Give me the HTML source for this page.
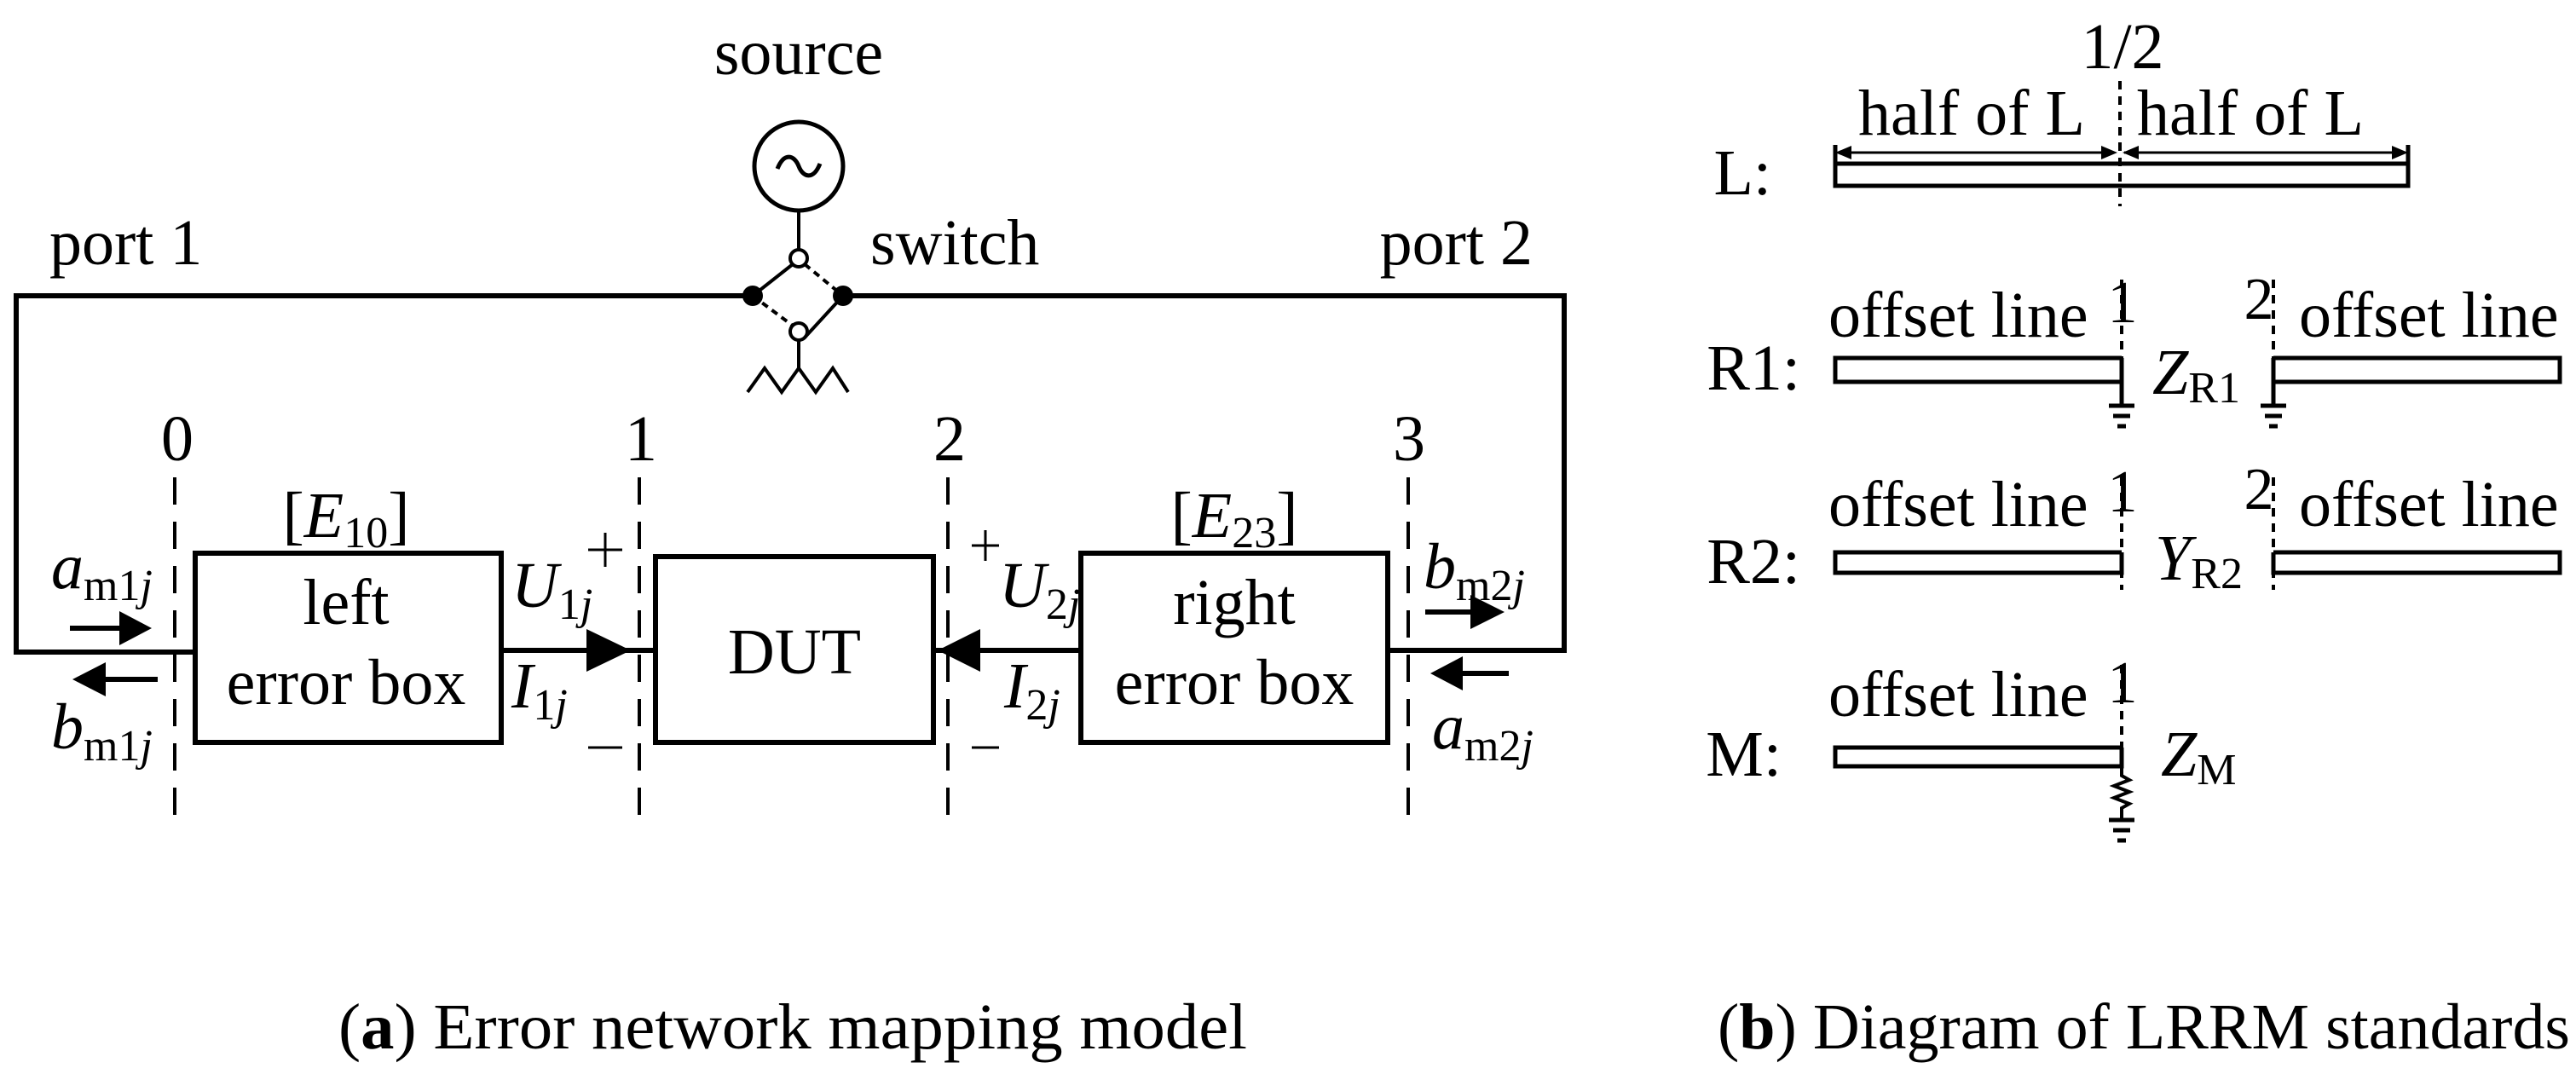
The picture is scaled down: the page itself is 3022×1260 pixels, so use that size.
<!DOCTYPE html>
<html><head><meta charset="utf-8"><style>
html,body{margin:0;padding:0;background:#fff;}
svg{display:block;}
text{font-family:"Liberation Serif",serif;fill:#000;}
</style></head><body>
<svg width="3022" height="1260" viewBox="0 0 3022 1260" xmlns="http://www.w3.org/2000/svg">
<g stroke="#000" stroke-width="6" fill="none">
<polyline points="229,765 19,765 19,347 883,347"/>
<polyline points="989,347 1835,347 1835,763 1628,763"/>
<line x1="588" y1="763" x2="769" y2="763"/>
<line x1="1095" y1="763" x2="1268" y2="763"/>
<rect x="229" y="649" width="359" height="222"/>
<rect x="769" y="653" width="326" height="218"/>
<rect x="1268" y="649" width="360" height="222"/>
<circle cx="937" cy="195" r="52" stroke-width="5"/>
<path d="M912,198 C920,178 932,182 937,195 C942,208 954,212 962,192" stroke-width="5"/>
<line x1="937" y1="247" x2="937" y2="293" stroke-width="4"/>
<line x1="937" y1="399" x2="937" y2="432" stroke-width="4"/>
<line x1="883" y1="347" x2="930" y2="310" stroke-width="4"/>
<line x1="944" y1="396" x2="989" y2="347" stroke-width="4"/>
<line x1="944" y1="310" x2="989" y2="347" stroke-width="4" stroke-dasharray="8 6"/>
<line x1="883" y1="347" x2="930" y2="382" stroke-width="4" stroke-dasharray="8 6"/>
<circle cx="937" cy="303" r="10" stroke-width="4"/>
<circle cx="937" cy="389" r="10" stroke-width="4"/>
<polyline points="877,460 897,432 917,460 937,432 957,460 977,432 995,460" stroke-width="4"/>
<g stroke-width="4" stroke-dasharray="32 20">
<line x1="205" y1="560" x2="205" y2="960"/>
<line x1="750" y1="560" x2="750" y2="960"/>
<line x1="1112" y1="560" x2="1112" y2="960"/>
<line x1="1652" y1="560" x2="1652" y2="960"/>
</g>
<line x1="82" y1="737" x2="145" y2="737" stroke-width="6"/>
<line x1="120" y1="797" x2="185" y2="797" stroke-width="6"/>
<line x1="1672" y1="718" x2="1730" y2="718" stroke-width="6"/>
<line x1="1710" y1="790" x2="1770" y2="790" stroke-width="6"/>
<g stroke-width="3">
<line x1="690" y1="645" x2="730" y2="645"/><line x1="710" y1="625" x2="710" y2="665"/>
<line x1="690" y1="877" x2="730" y2="877"/>
<line x1="1140" y1="640" x2="1172" y2="640"/><line x1="1156" y1="622" x2="1156" y2="658"/>
<line x1="1140" y1="877" x2="1172" y2="877"/>
</g>
</g>
<g fill="#000">
<circle cx="883" cy="347" r="12"/>
<circle cx="989" cy="347" r="12"/>
<polygon points="140,717 178,737 140,757"/>
<polygon points="85,797 124,777 124,817"/>
<polygon points="1725,698 1765,718 1725,738"/>
<polygon points="1678,790 1716,770 1716,810"/>
<polygon points="688,738 740,763 688,788"/>
<polygon points="1150,738 1100,763 1150,788"/>
</g>
<g font-size="76">
<text x="937" y="87" text-anchor="middle">source</text>
<text x="58" y="310">port 1</text>
<text x="1021" y="310">switch</text>
<text x="1798" y="310" text-anchor="end">port 2</text>
<text x="208" y="540" text-anchor="middle">0</text>
<text x="752" y="540" text-anchor="middle">1</text>
<text x="1114" y="540" text-anchor="middle">2</text>
<text x="1653" y="540" text-anchor="middle">3</text>
<text x="406" y="630" text-anchor="middle">[<tspan font-style="italic">E</tspan><tspan font-size="52" dy="12">10</tspan><tspan dy="-12">]</tspan></text>
<text x="1448" y="630" text-anchor="middle">[<tspan font-style="italic">E</tspan><tspan font-size="52" dy="12">23</tspan><tspan dy="-12">]</tspan></text>
<text x="406" y="732" text-anchor="middle">left</text>
<text x="406" y="826" text-anchor="middle">error box</text>
<text x="932" y="790" text-anchor="middle">DUT</text>
<text x="1448" y="732" text-anchor="middle">right</text>
<text x="1448" y="826" text-anchor="middle">error box</text>
<text x="60" y="690"><tspan font-style="italic">a</tspan><tspan font-size="52" dy="14">m1</tspan><tspan font-size="52" font-style="italic">j</tspan></text>
<text x="60" y="878"><tspan font-style="italic">b</tspan><tspan font-size="52" dy="14">m1</tspan><tspan font-size="52" font-style="italic">j</tspan></text>
<text x="600" y="712"><tspan font-style="italic">U</tspan><tspan font-size="52" dy="14">1</tspan><tspan font-size="52" font-style="italic">j</tspan></text>
<text x="600" y="830"><tspan font-style="italic">I</tspan><tspan font-size="52" dy="14">1</tspan><tspan font-size="52" font-style="italic">j</tspan></text>
<text x="1172" y="712"><tspan font-style="italic">U</tspan><tspan font-size="52" dy="14">2</tspan><tspan font-size="52" font-style="italic">j</tspan></text>
<text x="1178" y="830"><tspan font-style="italic">I</tspan><tspan font-size="52" dy="14">2</tspan><tspan font-size="52" font-style="italic">j</tspan></text>
<text x="1670" y="690"><tspan font-style="italic">b</tspan><tspan font-size="52" dy="14">m2</tspan><tspan font-size="52" font-style="italic">j</tspan></text>
<text x="1680" y="878"><tspan font-style="italic">a</tspan><tspan font-size="52" dy="14">m2</tspan><tspan font-size="52" font-style="italic">j</tspan></text>
<text x="397" y="1230" textLength="1066" lengthAdjust="spacingAndGlyphs">(<tspan font-weight="bold">a</tspan>) Error network mapping model</text>
<text x="2015" y="1230" textLength="1000" lengthAdjust="spacingAndGlyphs">(<tspan font-weight="bold">b</tspan>) Diagram of LRRM standards</text>
</g>
<g stroke="#000" stroke-width="5" fill="none">
<rect x="2153" y="192" width="672" height="26"/>
<line x1="2153" y1="170" x2="2153" y2="218"/>
<line x1="2825" y1="170" x2="2825" y2="218"/>
<line x1="2160" y1="179" x2="2480" y2="179" stroke-width="3"/>
<line x1="2492" y1="179" x2="2818" y2="179" stroke-width="3"/>
<g stroke-width="4" stroke-dasharray="10 8">
<line x1="2487" y1="95" x2="2487" y2="242"/>
<line x1="2489" y1="328" x2="2489" y2="420"/>
<line x1="2667" y1="328" x2="2667" y2="420"/>
<line x1="2489" y1="560" x2="2489" y2="692"/>
<line x1="2667" y1="560" x2="2667" y2="692"/>
<line x1="2489" y1="780" x2="2489" y2="877"/>
</g>
<polyline points="2489,420 2153,420 2153,448 2489,448 2489,420"/>
<line x1="2489" y1="448" x2="2489" y2="474"/>
<polyline points="2667,420 3003,420 3003,448 2667,448 2667,420"/>
<line x1="2667" y1="448" x2="2667" y2="474"/>
<polyline points="2489,648 2153,648 2153,672 2489,672 2489,648"/>
<polyline points="2667,648 3003,648 3003,672 2667,672 2667,648"/>
<polyline points="2489,877 2153,877 2153,899 2489,899 2489,877"/>
<polyline points="2489,899 2489,910 2498,915 2480,922 2498,929 2480,936 2498,943 2489,948 2489,960" stroke-width="4"/>
<g stroke-width="5">
<line x1="2474" y1="476" x2="2504" y2="476"/><line x1="2479" y1="488" x2="2499" y2="488"/><line x1="2484" y1="500" x2="2494" y2="500"/>
<line x1="2652" y1="476" x2="2682" y2="476"/><line x1="2657" y1="488" x2="2677" y2="488"/><line x1="2662" y1="500" x2="2672" y2="500"/>
<line x1="2474" y1="962" x2="2504" y2="962"/><line x1="2479" y1="974" x2="2499" y2="974"/><line x1="2484" y1="986" x2="2494" y2="986"/>
</g>
</g>
<g fill="#000">
<polygon points="2153,179 2172,171 2172,187"/>
<polygon points="2484,179 2465,171 2465,187"/>
<polygon points="2490,179 2509,171 2509,187"/>
<polygon points="2825,179 2806,171 2806,187"/>
</g>
<g font-size="76">
<text x="2490" y="80" text-anchor="middle">1/2</text>
<text x="2180" y="158">half of L</text>
<text x="2507" y="158">half of L</text>
<text x="2078" y="228" text-anchor="end">L:</text>
<text x="2112" y="457" text-anchor="end">R1:</text>
<text x="2112" y="684" text-anchor="end">R2:</text>
<text x="2090" y="910" text-anchor="end">M:</text>
<text x="2145" y="395">offset line</text>
<text x="2697" y="395">offset line</text>
<text x="2145" y="617">offset line</text>
<text x="2697" y="617">offset line</text>
<text x="2145" y="840">offset line</text>
<text font-size="70" x="2490" y="378" text-anchor="middle">1</text>
<text font-size="70" x="2650" y="374" text-anchor="middle">2</text>
<text font-size="70" x="2490" y="600" text-anchor="middle">1</text>
<text font-size="70" x="2650" y="597" text-anchor="middle">2</text>
<text font-size="70" x="2490" y="824" text-anchor="middle">1</text>
<text x="2525" y="462"><tspan font-style="italic">Z</tspan><tspan font-size="52" dy="10">R1</tspan></text>
<text x="2528" y="680"><tspan font-style="italic">Y</tspan><tspan font-size="52" dy="10">R2</tspan></text>
<text x="2535" y="910"><tspan font-style="italic">Z</tspan><tspan font-size="52" dy="10">M</tspan></text>
</g>
</svg>
</body></html>
